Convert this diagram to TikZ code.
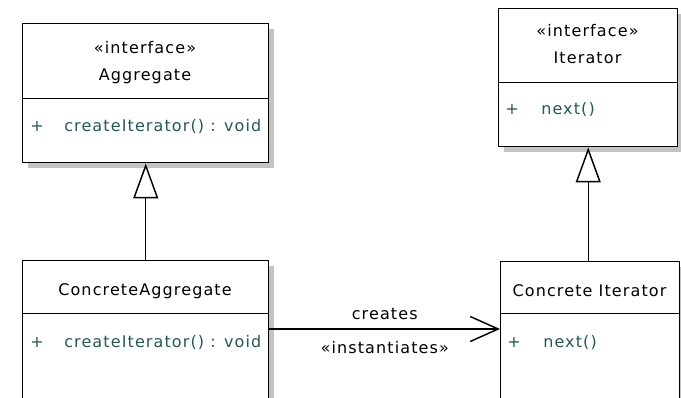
\documentclass[tikz,border=0pt]{standalone}
\usepackage{fontspec}
\setmainfont{DejaVu Sans}[LetterSpace=7]
\usetikzlibrary{arrows.meta,shadows}
\definecolor{methodcol}{RGB}{38,88,88}
\definecolor{shadowcol}{RGB}{195,195,195}
\begin{document}
\begin{tikzpicture}[x=0.75pt,y=-0.75pt,
  every node/.style={font=\fontsize{12pt}{19.5pt}\selectfont},
  box/.style n args={2}{draw, line width=1.1pt, fill=white, anchor=north west,
    inner sep=0pt, minimum width=#1*0.75pt, minimum height=#2*0.75pt,
    drop shadow={shadow xshift=3.75pt, shadow yshift=-3.75pt, fill=shadowcol, opacity=1}},
  txt/.style={inner sep=0pt, anchor=base},
  plus/.style={inner sep=0pt, anchor=base, text=methodcol},
  mth/.style={inner sep=0pt, anchor=base west, text=methodcol},
  gen/.style={draw, line width=1.1pt, -{Triangle[open, length=26.25pt, width=18.75pt, line width=1.1pt]}},
  dep/.style={draw, line width=1.1pt, -{Straight Barb[length=21pt, width=18.75pt, line width=1.1pt]}}
]
\path[use as bounding box, clip] (0,0) rectangle (681,398);

% Aggregate
\node[box={246}{75}] (agg) at (22,23) {};
\node[box={246}{64}] (aggm) at (22,98) {};
\node[txt] (aggs) at (145,54) {«interface»};
\node[txt] (aggn) at (145,81) {Aggregate};
\node[plus] (aggp) at (37,132) {+};
\node[mth] (aggo) at (64,132) {createIterator() : void};

% Iterator
\node[box={179}{74}] (it) at (498,8) {};
\node[box={179}{64}] (itm) at (498,82) {};
\node[txt] (its) at (587.5,37) {«interface»};
\node[txt] (itn) at (587.5,64) {Iterator};
\node[plus] (itp) at (512,115) {+};
\node[mth] (ito) at (541,115) {next()};

% ConcreteAggregate
\node[box={246}{53}] (ca) at (22,260) {};
\node[box={246}{100}] (cam) at (22,313) {};
\node[txt] (can) at (145,296) {ConcreteAggregate};
\node[plus] (cap) at (37,348) {+};
\node[mth] (cao) at (64,348) {createIterator() : void};

% ConcreteIterator
\node[box={179}{52}] (ci) at (500,261) {};
\node[box={179}{100}] (cim) at (500,313) {};
\node[txt] (cin) at (589.5,297) {Concrete Iterator};
\node[plus] (cip) at (514,348) {+};
\node[mth] (cio) at (543,348) {next()};

% connectors
\draw[gen] (ca.north) -- (aggm.south);
\draw[gen] (ci.north -| itm.south) -- (itm.south);
\draw[dep] ([yshift=-12pt]cam.north east) -- ([yshift=-12pt]cim.north west)
  node[txt, pos=0.5, yshift=6.75pt] (crl) {creates}
  node[txt, pos=0.5, yshift=-18.75pt] (inl) {«instantiates»};
\end{tikzpicture}
\end{document}
